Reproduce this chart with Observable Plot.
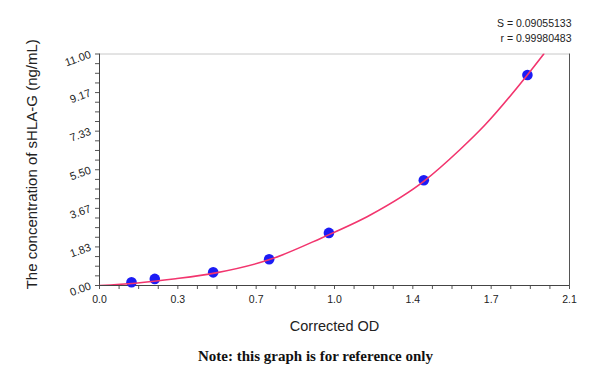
<!DOCTYPE html>
<html><head><meta charset="utf-8">
<script src="https://cdn.jsdelivr.net/npm/d3@7"></script>
<script src="https://cdn.jsdelivr.net/npm/@observablehq/plot@0.6"></script>
<style>body{margin:0;background:#fff;}</style>
</head><body><div id="chart"></div>
<script>
// Standard points
const odValues = [0.143, 0.247, 0.508, 0.758, 1.025, 1.449, 1.912];
const concValues = [0.156, 0.3125, 0.625, 1.25, 2.5, 5, 10];
// Fitted curve
const curveOD = [0, 0.16, 0.34, 0.52, 0.76, 0.99, 1.21, 1.45, 1.61, 1.72, 1.91, 1.985];
const curveConc = [0, 0.11, 0.32, 0.60, 1.23, 2.25, 3.35, 4.96, 6.45, 7.60, 9.98, 11.0];
// Axis ticks
const xTickValues = [0, 0.35, 0.7, 1.05, 1.4, 1.75, 2.1];
const xTickLabels = ["0.0", "0.3", "0.7", "1.0", "1.4", "1.7", "2.1"];
const yTickValues = [0, 11/6, 22/6, 33/6, 44/6, 55/6, 11];
const yTickLabels = ["0.00", "1.83", "3.67", "5.50", "7.33", "9.17", "11.00"];
const statLines = ["S = 0.09055133", "r = 0.99980483"];
const xTitle = "Corrected OD";
const yTitle = "The concentration of sHLA-G (ng/mL)";
const note = "Note: this graph is for reference only";

const points = odValues.map((x, i) => ({x, y: concValues[i]}));
const curve = curveOD.map((x, i) => ({x, y: curveConc[i]}));
const minor = (vals) => {
  const out = [];
  for (let i = 0; i < vals.length - 1; i++)
    for (let k = 1; k < 4; k++) out.push(vals[i] + (vals[i+1] - vals[i]) * k / 4);
  return out;
};

const chart = Plot.plot({
  width: 600, height: 377,
  marginLeft: 99, marginRight: 31, marginTop: 53.5, marginBottom: 92,
  style: {fontFamily: "'Liberation Sans', Arial, sans-serif", background: "#fff", color: "#222"},
  x: {domain: [0, 2.1]},
  y: {domain: [0, 11]},
  marks: [
    Plot.ruleY([11], {stroke: "#c8c8c8", strokeWidth: 1}),
    Plot.ruleX([2.1], {stroke: "#555", strokeWidth: 1}),
    Plot.axisX({ticks: minor(xTickValues), tickFormat: () => "", tickSize: 4, label: null, stroke: "#555"}),
    Plot.axisX({ticks: xTickValues, tickFormat: d => xTickLabels[xTickValues.indexOf(d)], tickSize: 4, tickPadding: 6, fontSize: 10.5, label: null, stroke: "#555"}),
    Plot.axisY({ticks: minor(yTickValues), tickFormat: () => "", tickSize: 4, label: null, stroke: "#555"}),
    Plot.axisY({ticks: yTickValues, tickFormat: d => yTickLabels[yTickValues.indexOf(d)], tickSize: 4, tickPadding: 5, tickRotate: -20, fontSize: 11, label: null, stroke: "#555"}),
    Plot.ruleX([0], {stroke: "#444"}),
    Plot.ruleY([0], {stroke: "#444"}),
    Plot.dot(points, {x: "x", y: "y", r: 5.3, fill: "#1c1cf5", stroke: "none"}),
    Plot.line(curve, {x: "x", y: "y", stroke: "#f2356e", strokeWidth: 1.6, curve: "monotone-x", clip: true}),
    Plot.text([statLines[0]], {frameAnchor: "top-right", textAnchor: "end", dx: 2, dy: -34.5, fontSize: 10.5, fill: "#222"}),
    Plot.text([statLines[1]], {frameAnchor: "top-right", textAnchor: "end", dx: 2, dy: -19.5, fontSize: 10.5, fill: "#222"}),
    Plot.text([xTitle], {frameAnchor: "bottom", dy: 45, fontSize: 14.5, fill: "#222"}),
    Plot.text([note], {frameAnchor: "bottom", dx: -19, dy: 75, fontSize: 15, fontWeight: "bold", fontFamily: "'Liberation Serif', 'Times New Roman', serif", fill: "#111"}),
    Plot.text([yTitle], {frameAnchor: "left", textAnchor: "middle", rotate: -90, dx: -67, dy: -5.5, fontSize: 15, fill: "#222"})
  ]
});
document.getElementById("chart").appendChild(chart);
</script>
</body></html>
